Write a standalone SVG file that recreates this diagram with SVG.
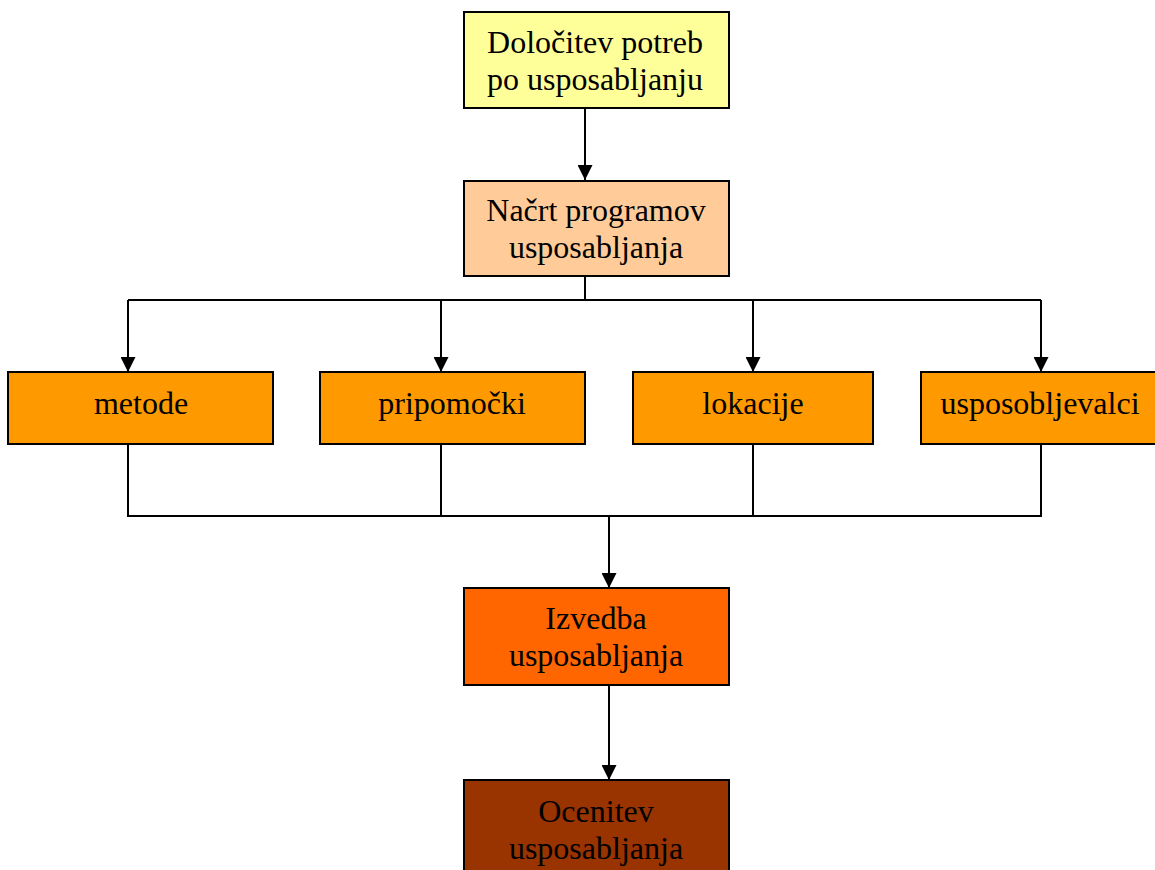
<svg xmlns="http://www.w3.org/2000/svg" width="1155" height="870" viewBox="0 0 1155 870">
<defs>
<marker id="ah" markerUnits="userSpaceOnUse" markerWidth="15" markerHeight="15" refX="15" refY="7.5" orient="auto" viewBox="0 0 15 15">
<path d="M0,0 L15,7.5 L0,15 Z" fill="#000"/>
</marker>
</defs>
<style>
.box{stroke:#000;stroke-width:2}
.t{font-family:"Liberation Serif","Times New Roman",serif;font-size:32px;fill:#000;text-anchor:middle}
.c{fill:none;stroke:#000;stroke-width:2}
</style>
<rect width="1155" height="870" fill="#fff"/>
<g id="connectors">
<line class="c" x1="585" y1="108" x2="585" y2="180" marker-end="url(#ah)"/>
<polyline class="c" points="585,276 585,300"/>
<polyline class="c" points="128,300 1041,300"/>
<line class="c" x1="128" y1="300" x2="128" y2="372" marker-end="url(#ah)"/>
<line class="c" x1="441" y1="300" x2="441" y2="372" marker-end="url(#ah)"/>
<line class="c" x1="753" y1="300" x2="753" y2="372" marker-end="url(#ah)"/>
<line class="c" x1="1041" y1="300" x2="1041" y2="372" marker-end="url(#ah)"/>
<polyline class="c" points="128,444 128,516 1041,516 1041,444"/>
<line class="c" x1="441" y1="444" x2="441" y2="516"/>
<line class="c" x1="753" y1="444" x2="753" y2="516"/>
<line class="c" x1="609" y1="516" x2="609" y2="588" marker-end="url(#ah)"/>
<line class="c" x1="609" y1="685" x2="609" y2="780" marker-end="url(#ah)"/>
</g>
<g id="n1">
<rect class="box" x="464" y="12" width="265" height="96" fill="#FFFF99"/>
<text class="t" x="595" y="53">Določitev potreb</text>
<text class="t" x="595" y="90">po usposabljanju</text>
</g>
<g id="n2">
<rect class="box" x="464" y="181" width="265" height="95" fill="#FFCC99"/>
<text class="t" x="596" y="221">Načrt programov</text>
<text class="t" x="596" y="258">usposabljanja</text>
</g>
<g id="n3">
<rect class="box" x="8" y="372" width="265" height="72" fill="#FF9900"/>
<text class="t" x="141" y="414">metode</text>
</g>
<g id="n4">
<rect class="box" x="320" y="372" width="265" height="72" fill="#FF9900"/>
<text class="t" x="452" y="414">pripomočki</text>
</g>
<g id="n5">
<rect class="box" x="633" y="372" width="240" height="72" fill="#FF9900"/>
<text class="t" x="753" y="414">lokacije</text>
</g>
<g id="n6">
<rect class="box" x="921" y="372" width="240" height="72" fill="#FF9900"/>
<text class="t" x="1040" y="414">usposobljevalci</text>
</g>
<g id="n7">
<rect class="box" x="464" y="588" width="265" height="97" fill="#FF6600"/>
<text class="t" x="596" y="629">Izvedba</text>
<text class="t" x="596" y="666">usposabljanja</text>
</g>
<g id="n8">
<rect class="box" x="464" y="780" width="265" height="100" fill="#993300"/>
<text class="t" x="596" y="822">Ocenitev</text>
<text class="t" x="596" y="859">usposabljanja</text>
</g>
</svg>
